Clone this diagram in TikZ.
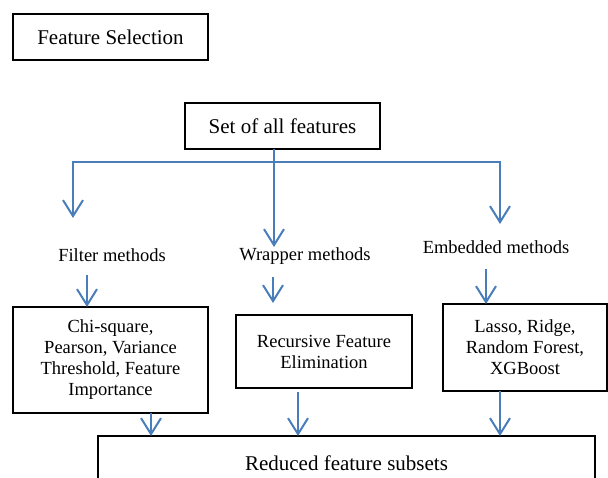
\documentclass[tikz,border=0pt]{standalone}
\usepackage{fontspec}
\setmainfont{Liberation Serif}
\usetikzlibrary{arrows.meta}
\definecolor{linkblue}{RGB}{74,126,187}

\begin{document}
\begin{tikzpicture}[x=1pt,y=-1pt,
	box/.style={draw,line width=1.3pt,inner sep=0,outer sep=0,align=center,font=\fontsize{21}{25}\selectfont},
	methodbox/.style={draw,line width=2pt,inner sep=0,outer sep=0,align=center,font=\fontsize{18.5}{21}\selectfont},
	methodtext/.style={inner sep=0,font=\fontsize{18.5}{21}\selectfont},
	flow/.style={draw=linkblue,line width=2pt,-{Straight Barb[length=16pt,width=20pt]}}]
	\useasboundingbox (0,0) rectangle (608,478);
	\node[box,minimum width=195pt,minimum height=46pt] (title) at (110.5,37) {Feature Selection};
	\node[box,minimum width=195pt,minimum height=46pt] (allfeat) at (282.5,126) {Set of all features};
	\node[methodtext] (filter) at (112,255) {Filter methods};
	\node[methodtext] (wrapper) at (305,256) {Wrapper methods};
	\node[methodtext] (embedded) at (496,247) {Embedded methods};
	\node[methodbox,minimum width=195pt,minimum height=106pt] (filterbox) at (110.5,360) {Chi-square,\\Pearson, Variance\\Threshold, Feature\\Importance};
	\node[methodbox,minimum width=176pt,minimum height=73pt] (wrapperbox) at (324,351.5) {Recursive Feature\\Elimination};
	\node[methodbox,minimum width=164pt,minimum height=87pt] (embeddedbox) at (525,347.5) {Lasso, Ridge,\\Random Forest,\\XGBoost};
	\node[methodbox,font=\fontsize{21}{25}\selectfont,minimum width=497pt,minimum height=54pt] (reduced) at (346.5,463) {Reduced feature subsets};
	\coordinate (split) at (274,162);
	\coordinate (ftip) at (73,218);
	\coordinate (wtip) at (274,247);
	\coordinate (etip) at (500,224);
	\coordinate (f2) at (87,275);
	\coordinate (w2) at (273,277);
	\coordinate (w2tip) at (273,303);
	\coordinate (e2) at (486,269);
	\draw[flow] (split) -| (ftip);
	\draw[flow] (split) -| (etip);
	\draw[flow] (allfeat.south -| split) -- (wtip);
	\draw[flow] (f2) -- (f2 |- filterbox.north);
	\draw[flow] (w2) -- (w2tip);
	\draw[flow] (e2) -- (e2 |- embeddedbox.north);
	\draw[flow] ([xshift=40.5pt]filterbox.south) -- ([xshift=40.5pt]filterbox.south |- reduced.north);
	\draw[flow] ([xshift=-26pt,yshift=-4pt]wrapperbox.south) -- ([xshift=-26pt]wrapperbox.south |- reduced.north);
	\draw[flow] ([xshift=-25pt]embeddedbox.south) -- ([xshift=-25pt]embeddedbox.south |- reduced.north);
\end{tikzpicture}
\end{document}
